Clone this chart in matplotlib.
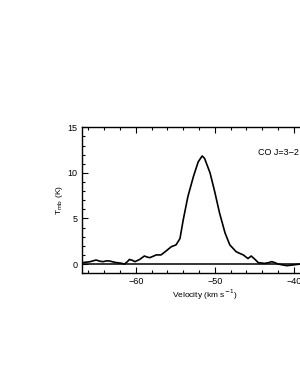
import numpy as np
import matplotlib
matplotlib.use('Agg')
from matplotlib import pyplot as plt
from matplotlib.ticker import MultipleLocator

# CO J=3-2 spectrum
velocity = [-66.8, -66.3, -65.8, -65.0, -64.5, -64.1, -63.7, -63.3, -62.8, -62.4,
            -61.9, -61.4, -61.0, -60.8, -60.4, -60.1, -59.5, -58.9, -58.5, -58.2,
            -57.8, -57.4, -56.8, -56.2, -55.5, -54.9, -54.4, -54.0, -53.4, -52.7,
            -52.1, -51.6, -51.3, -50.6, -50.0, -49.4, -48.7, -48.1, -47.3, -46.8,
            -46.4, -45.8, -45.4, -44.9, -44.5, -43.7, -43.2, -42.8, -42.4, -42.0,
            -41.4, -40.9, -40.1, -39.2, -38.0, -37.0, -36.0, -35.7]
tmb = [0.15, 0.2, 0.25, 0.44, 0.3, 0.26, 0.35, 0.33, 0.22, 0.15,
       0.1, 0.0, 0.3, 0.5, 0.4, 0.26, 0.5, 0.88, 0.75, 0.7,
       0.85, 1.0, 1.0, 1.4, 1.9, 2.1, 2.8, 4.8, 7.4, 9.6,
       11.2, 11.85, 11.6, 10.0, 7.9, 5.6, 3.4, 2.1, 1.35, 1.15,
       1.0, 0.6, 0.88, 0.5, 0.15, 0.07, 0.15, 0.26, 0.15, 0.0,
       -0.1, -0.18, -0.1, 0.0, -0.05, 0.1, 0.0, 0.05]

plt.rcParams['font.family'] = ['Liberation Sans', 'DejaVu Sans']

fig = plt.figure(figsize=(3.0, 3.88), dpi=100)
ax = fig.add_axes([0.273, 0.296, 0.82, 0.376])
ax.plot(velocity, tmb, color='black', lw=1.2)
ax.axhline(0, color='black', lw=1.1)
ax.set_xlim(-66.8, -35.7)
ax.set_ylim(-1, 15)
ax.xaxis.set_major_locator(MultipleLocator(10))
ax.xaxis.set_minor_locator(MultipleLocator(2))
ax.yaxis.set_major_locator(MultipleLocator(5))
ax.yaxis.set_minor_locator(MultipleLocator(1))
ax.tick_params(which='both', direction='in', top=True, right=True,
               labelsize=6.5, pad=3, width=0.8)
ax.tick_params(which='major', length=4)
ax.tick_params(which='minor', length=2)
for s in ax.spines.values():
    s.set_linewidth(1.0)
ax.set_xlabel('Velocity (km s$^{-1}$)', fontsize=6, labelpad=1)
ax.set_ylabel('T$_{\\rm mb}$ (K)', fontsize=6, labelpad=2)
ax.text(-44.6, 12.2, 'CO J=3\u22122', fontsize=6.5, va='center')
fig.savefig('out.png', dpi=100)
